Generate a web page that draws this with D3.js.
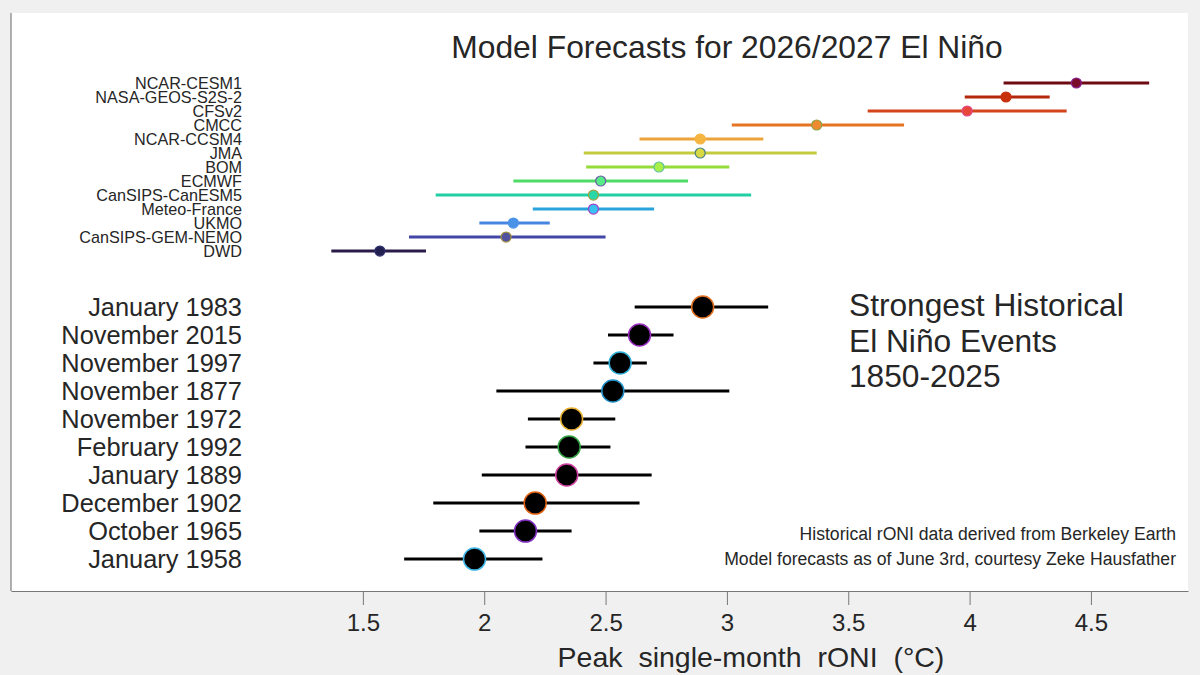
<!DOCTYPE html>
<html>
<head>
<meta charset="utf-8">
<script src="https://cdn.jsdelivr.net/npm/d3@7"></script>
<style>
  body { margin: 0; background: #f0f0f0; }
  text { font-family: "Liberation Sans", Arial, sans-serif; fill: #262626; }
</style>
</head>
<body>
<div id="chart"></div>
<script>
const width = 1200;
const height = 675;

// model forecasts, top to bottom
const models = ["NCAR-CESM1", "NASA-GEOS-S2S-2", "CFSv2", "CMCC", "NCAR-CCSM4", "JMA", "BOM",
    "ECMWF", "CanSIPS-CanESM5", "Meteo-France", "UKMO", "CanSIPS-GEM-NEMO", "DWD"];
const modelMid = [4.44, 4.15, 3.99, 3.37, 2.89, 2.89, 2.72, 2.48, 2.45, 2.45, 2.12, 2.09, 1.57];
const modelLo = [4.14, 3.98, 3.58, 3.02, 2.64, 2.41, 2.42, 2.12, 1.80, 2.20, 1.98, 1.69, 1.37];
const modelHi = [4.74, 4.33, 4.40, 3.73, 3.15, 3.37, 3.01, 2.84, 3.10, 2.70, 2.27, 2.50, 1.76];
const modelColors = ["#6e0a12", "#b5270b", "#d4441c", "#e57425", "#eca33a", "#c3cc3d", "#93dc3c",
    "#4fdc66", "#22cfa4", "#2aa3dc", "#4686e0", "#4346a6", "#2a1a47"];
const modelFill = ["#7a0a2a", "#c8300c", "#e8463a", "#f08a30", "#f6b440", "#d8d844", "#a8f048",
    "#58ec88", "#28d8a8", "#38c0f0", "#4a92e8", "#5052a0", "#222050"];
const modelEdge = ["#8a2090", "#c8300c", "#e04888", "#90a040", "#f6b440", "#4a8080", "#60c0a0",
    "#6a5aa8", "#a0a040", "#a040c8", "#4a92e8", "#a09040", "#303070"];

// strongest historical events, top to bottom
const events = ["January 1983", "November 2015", "November 1997", "November 1877", "November 1972",
    "February 1992", "January 1889", "December 1902", "October 1965", "January 1958"];
const eventMid = [2.90, 2.64, 2.56, 2.53, 2.36, 2.35, 2.34, 2.21, 2.17, 1.96];
const eventLo = [2.62, 2.51, 2.45, 2.05, 2.18, 2.17, 1.99, 1.79, 1.98, 1.67];
const eventHi = [3.17, 2.78, 2.67, 3.01, 2.54, 2.52, 2.69, 2.64, 2.36, 2.24];
const eventEdge = ["#e07020", "#9b30c0", "#30b0d8", "#2090c8", "#e8b030", "#30a040", "#d040a0",
    "#e06010", "#8030c0", "#40b8e8"];

const xTicks = [1.5, 2, 2.5, 3, 3.5, 4, 4.5];

const plot = { left: 11, right: 1188, top: 13, bottom: 591 };

const x = d3.scaleLinear().domain([0.05, 4.9]).range([plot.left, plot.right]);
const y = d3.scaleLinear().domain([-0.14, 20.5]).range([plot.bottom, plot.top]);

const svg = d3.select("#chart")
    .append("svg")
    .attr("width", width)
    .attr("height", height)
    .attr("viewBox", [0, 0, width, height]);

svg.append("rect")
    .attr("x", plot.left)
    .attr("y", plot.top)
    .attr("width", plot.right - plot.left)
    .attr("height", plot.bottom - plot.top)
    .attr("fill", "#fff");

// left axis line only
svg.append("line")
    .attr("x1", plot.left).attr("x2", plot.left)
    .attr("y1", plot.top).attr("y2", plot.bottom)
    .attr("stroke", "#666").attr("stroke-width", 1);

const xAxis = svg.append("g")
    .attr("transform", "translate(0," + plot.bottom + ")")
    .call(d3.axisBottom(x).tickValues(xTicks).tickSize(14).tickSizeOuter(0).tickPadding(9)
        .tickFormat(d => String(d)));
xAxis.select(".domain").attr("stroke", "#777");
xAxis.selectAll(".tick line").attr("stroke", "#777");
xAxis.selectAll(".tick text")
    .attr("font-size", 24)
    .attr("fill", "#262626")
    .style("font-family", "'Liberation Sans', Arial, sans-serif");

const modelY = (d, i) => y(18 - i * 0.5);
const eventY = (d, i) => y(10 - i);

// model forecasts
const mg = svg.append("g");
mg.selectAll("line")
    .data(models)
    .join("line")
    .attr("x1", (d, i) => x(modelLo[i]))
    .attr("x2", (d, i) => x(modelHi[i]))
    .attr("y1", modelY)
    .attr("y2", modelY)
    .attr("stroke", (d, i) => modelColors[i])
    .attr("stroke-width", 3);
mg.selectAll("circle")
    .data(models)
    .join("circle")
    .attr("cx", (d, i) => x(modelMid[i]))
    .attr("cy", modelY)
    .attr("r", 5)
    .attr("fill", (d, i) => modelFill[i])
    .attr("stroke", (d, i) => modelEdge[i])
    .attr("stroke-width", 1.2);
mg.selectAll("text")
    .data(models)
    .join("text")
    .attr("x", 242)
    .attr("y", modelY)
    .attr("dy", "0.36em")
    .attr("text-anchor", "end")
    .attr("font-size", 16.2)
    .text(d => d);

// historical events
const hg = svg.append("g");
hg.selectAll("line")
    .data(events)
    .join("line")
    .attr("x1", (d, i) => x(eventLo[i]))
    .attr("x2", (d, i) => x(eventHi[i]))
    .attr("y1", eventY)
    .attr("y2", eventY)
    .attr("stroke", "#000")
    .attr("stroke-width", 3);
hg.selectAll("circle")
    .data(events)
    .join("circle")
    .attr("cx", (d, i) => x(eventMid[i]))
    .attr("cy", eventY)
    .attr("r", 11)
    .attr("fill", "#000")
    .attr("stroke", (d, i) => eventEdge[i])
    .attr("stroke-width", 1.5);
hg.selectAll("text")
    .data(events)
    .join("text")
    .attr("x", 242)
    .attr("y", eventY)
    .attr("dy", "0.36em")
    .attr("text-anchor", "end")
    .attr("font-size", 25.4)
    .text(d => d);

// titles and notes
svg.append("text")
    .attr("x", 727)
    .attr("y", 58)
    .attr("text-anchor", "middle")
    .attr("font-size", 31.8)
    .text("Model Forecasts for 2026/2027 El Niño");

svg.append("text")
    .attr("font-size", 31.7)
    .selectAll("tspan")
    .data(["Strongest Historical", "El Niño Events", "1850-2025"])
    .join("tspan")
    .attr("x", 849)
    .attr("y", (d, i) => 316 + i * 35.5)
    .text(d => d);

svg.append("text")
    .attr("font-size", 17.6)
    .attr("text-anchor", "end")
    .selectAll("tspan")
    .data(["Historical rONI data derived from Berkeley Earth",
        "Model forecasts as of June 3rd, courtesy Zeke Hausfather"])
    .join("tspan")
    .attr("x", 1176)
    .attr("y", (d, i) => 540 + i * 25)
    .text(d => d);

svg.append("text")
    .attr("x", 751)
    .attr("y", 667)
    .attr("text-anchor", "middle")
    .attr("font-size", 28.5)
    .style("white-space", "pre")
    .text("Peak  single-month  rONI  (°C)");
</script>
</body>
</html>
